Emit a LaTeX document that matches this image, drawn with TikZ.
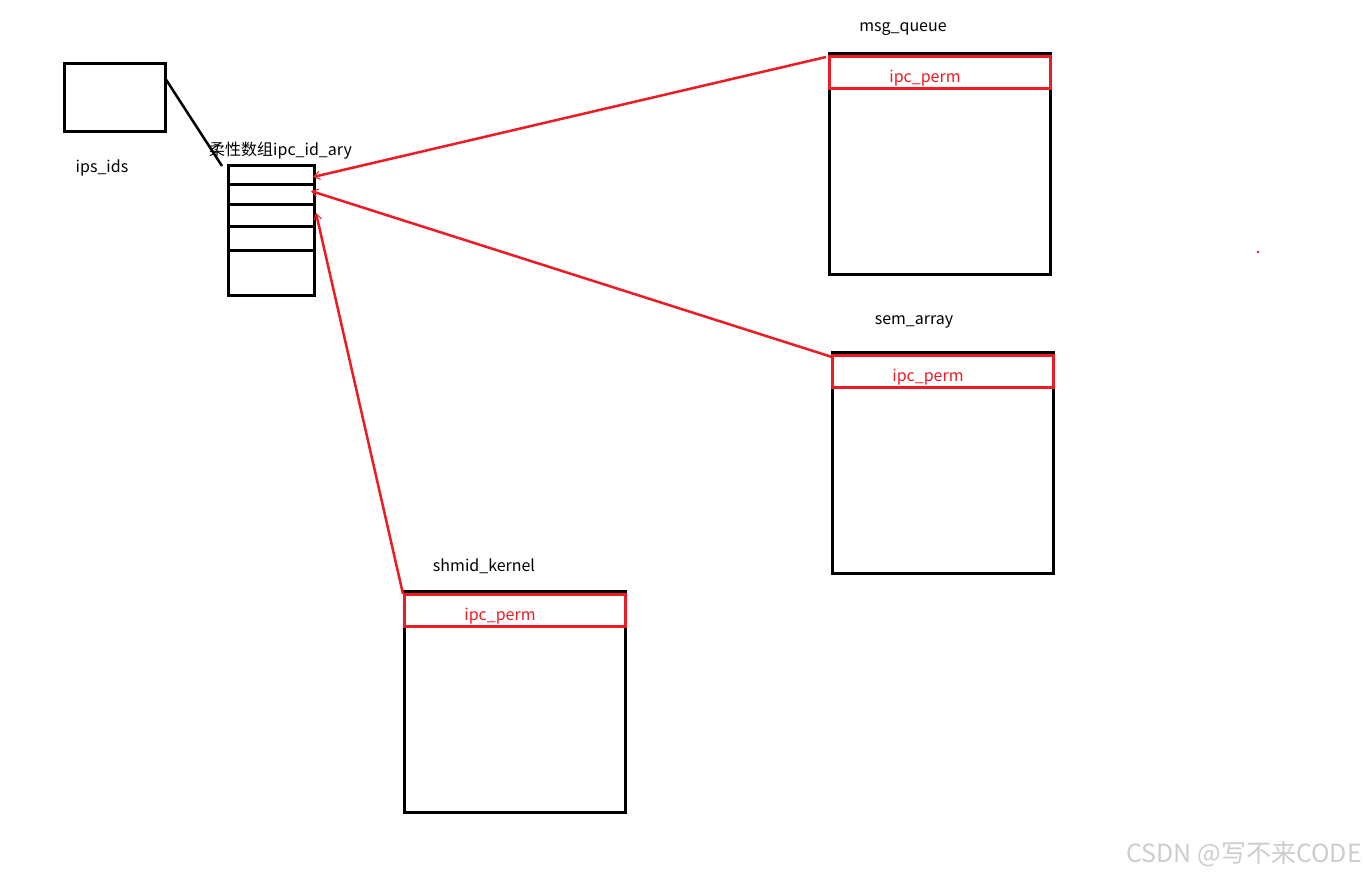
\documentclass[tikz,border=0pt]{standalone}
\usepackage{fontspec}
\setmainfont{Noto Sans CJK SC}
\usetikzlibrary{arrows.meta}
\definecolor{pred}{RGB}{237,28,36}
\definecolor{wm}{RGB}{205,205,205}
\tikzset{
  blk/.style={draw=black,line width=3pt},
  redrow/.style={draw=pred,line width=3pt},
  lbl/.style={font=\fontsize{16}{19}\selectfont,text=black,inner sep=0pt},
  plbl/.style={font=\fontsize{16}{19}\selectfont,text=pred,inner sep=0pt},
  redarr/.style={draw=pred,line width=2.5pt,-{Straight Barb[length=6pt,width=8pt,line width=1pt]}},
}
\begin{document}
\begin{tikzpicture}[x=1pt,y=-1pt]
\useasboundingbox[fill=white] (0,0) rectangle (1366,876);
% ips_ids
\draw[blk] (64,63) rectangle (165,131);
\coordinate (ipsr) at (165,78);
\node[lbl] (ipslbl) at (102,168) {ips\_ids};
% ipc_id_ary
\draw[blk] (228,165) rectangle (314,295);
\draw[blk] (228,184) -- (314,184);
\draw[blk] (228,204) -- (314,204);
\draw[blk] (228,226) -- (314,226);
\draw[blk] (228,250) -- (314,250);
\coordinate (arytl) at (222,166);
\coordinate (a1) at (313,177);
\coordinate (a2) at (311,191);
\coordinate (a3) at (316,213);
\node[lbl,anchor=west] (arylbl) at (209,151) {柔性数组ipc\_id\_ary};
\draw[black,line width=2.5pt] (ipsr) -- (arytl);
% msg_queue
\draw[blk] (829,53) rectangle (1050,274);
\draw[redrow] (829,56) rectangle (1050,88);
\node[lbl] (mqlbl) at (903,29) {msg\_queue};
\node[plbl] (mqp) at (925,78) {ipc\_perm};
\coordinate (mq) at (826,57);
% sem_array
\draw[blk] (832,352) rectangle (1053,573);
\draw[redrow] (832,355) rectangle (1053,387);
\node[lbl] (salbl) at (914,322) {sem\_array};
\node[plbl] (sap) at (928,377) {ipc\_perm};
\coordinate (sa) at (832,357);
% shmid_kernel
\draw[blk] (404,591) rectangle (625,812);
\draw[redrow] (404,594) rectangle (625,626);
\node[lbl] (sklbl) at (484,566) {shmid\_kernel};
\node[plbl] (skp) at (500,616) {ipc\_perm};
\coordinate (sk) at (403,594);
% arrows
\draw[redarr] (mq) -- (a1);
\draw[redarr] (sa) -- (a2);
\draw[redarr] (sk) -- (a3);
% dot
\fill[pred] (1257,251) rectangle (1259,253);
% watermark
\node[font=\fontsize{25}{28}\selectfont,text=wm,anchor=east,inner sep=0pt] (wmk) at (1362,854) {CSDN @写不来CODE};
\end{tikzpicture}
\end{document}
